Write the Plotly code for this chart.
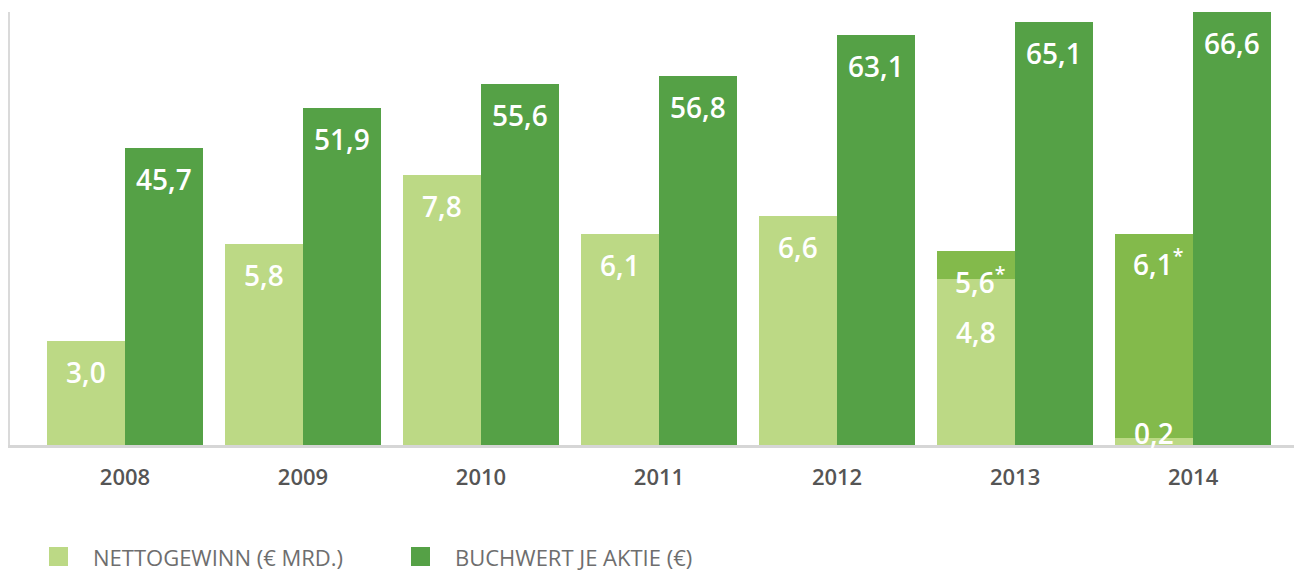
import plotly.graph_objects as go

years = ["2008", "2009", "2010", "2011", "2012", "2013", "2014"]
nettogewinn = [3.0, 5.8, 7.8, 6.1, 6.6, 4.8, 0.2]
nettogewinn_bereinigt = [None, None, None, None, None, 5.6, 6.1]
buchwert = [45.7, 51.9, 55.6, 56.8, 63.1, 65.1, 66.6]

LIGHT = "#BCD985"
MEDIUM = "#83BA4B"
DARK = "#55A146"
BAR_W = 0.438

def fmt(v):
    return f"{v:.1f}".replace(".", ",")

fig = go.Figure()

fig.add_trace(go.Bar(
    x=years, y=nettogewinn, yaxis="y2", name="NETTOGEWINN (€ MRD.)",
    marker=dict(color=LIGHT, line=dict(width=0)), width=BAR_W, offset=-BAR_W,
    showlegend=False, hoverinfo="x+y",
))
med_y = [None if b is None else b - n for b, n in zip(nettogewinn_bereinigt, nettogewinn)]
fig.add_trace(go.Bar(
    x=years, y=med_y, base=nettogewinn, yaxis="y2", name="bereinigt",
    marker=dict(color=MEDIUM, line=dict(width=0)), width=BAR_W, offset=-BAR_W,
    showlegend=False, hoverinfo="skip",
))
fig.add_trace(go.Bar(
    x=years, y=buchwert, yaxis="y", name="BUCHWERT JE AKTIE (€)",
    marker=dict(color=DARK, line=dict(width=0)), width=BAR_W, offset=0,
    showlegend=False, hoverinfo="x+y",
))

label_font = dict(family="Open Sans", size=28, color="white", weight=600)
ann = []
for i, y in enumerate(years):
    ann.append(dict(x=i + BAR_W / 2, y=buchwert[i], xref="x", yref="y",
                    text=fmt(buchwert[i]), showarrow=False, yshift=-31,
                    yanchor="middle", font=label_font))
    v = nettogewinn[i]
    b = nettogewinn_bereinigt[i]
    if v < 1:
        ann.append(dict(x=i - BAR_W / 2, y=0, xref="x", yref="y2",
                        text=fmt(v), showarrow=False, yshift=-9,
                        yanchor="bottom", font=label_font))
    else:
        shift = -53 if b is not None else -31
        ann.append(dict(x=i - BAR_W / 2, y=v, xref="x", yref="y2",
                        text=fmt(v), showarrow=False, yshift=shift,
                        yanchor="middle", font=label_font))
    if b is not None:
        ann.append(dict(x=i - BAR_W / 2, y=b, xref="x", yref="y2",
                        text=fmt(b) + "<sup>*</sup>", showarrow=False, yshift=-29,
                        xshift=4, yanchor="middle", font=label_font))

legend_items = [(LIGHT, "NETTOGEWINN (€ MRD.)", 49), (DARK, "BUCHWERT JE AKTIE (€)", 411)]
shapes = []
W, H = 1294, 573
for col, txt, px in legend_items:
    shapes.append(dict(type="rect", xref="paper", yref="paper",
                       x0=(px - 10) / (W - 10), x1=(px + 19 - 10) / (W - 10),
                       y0=-(566 - 445) / 433, y1=-(547 - 445) / 433,
                       fillcolor=col, line=dict(width=0)))
    ann.append(dict(x=(px + 42 - 10) / (W - 10), y=-(557 - 445) / 433,
                    xref="paper", yref="paper", text=txt, showarrow=False,
                    xanchor="left", yanchor="middle",
                    font=dict(family="Open Sans", size=22, color="#6E6E6E")))

fig.update_layout(
    width=W, height=H,
    margin=dict(l=10, r=0, t=12, b=128),
    paper_bgcolor="white", plot_bgcolor="white",
    barmode="overlay", bargap=0,
    xaxis=dict(type="category", range=[-0.646, 6.567], showgrid=False,
               showline=True, linecolor="#D6D6D6", linewidth=3,
               ticks="outside", ticklen=11, tickcolor="rgba(0,0,0,0)",
               tickfont=dict(family="Open Sans", size=22, color="#555555", weight=600),
               zeroline=False, fixedrange=True),
    yaxis=dict(range=[0, 66.6], showgrid=False, showticklabels=False,
               zeroline=False, showline=True, linecolor="#DADADA", linewidth=2,
               ticks=""),
    yaxis2=dict(range=[0, 12.5], overlaying="y", side="right", showgrid=False,
                showticklabels=False, zeroline=False, showline=False, ticks=""),
    annotations=ann, shapes=shapes,
)

fig.write_html("out.html", config={"displayModeBar": False},
               post_script="document.body.style.margin='0';")
